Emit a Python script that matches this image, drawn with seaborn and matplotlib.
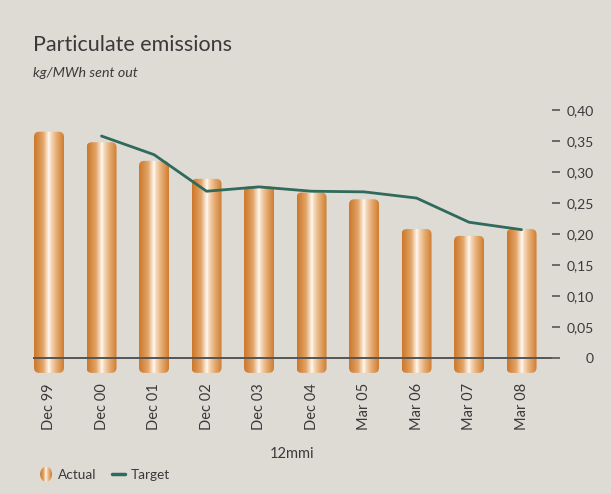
import numpy as np
import pandas as pd
import matplotlib
matplotlib.use("Agg")
import matplotlib.pyplot as plt
import seaborn as sns
from matplotlib.colors import LinearSegmentedColormap
from matplotlib.patches import FancyBboxPatch, Ellipse
from matplotlib.lines import Line2D
from matplotlib.legend_handler import HandlerPatch

PERIODS = ["Dec 99", "Dec 00", "Dec 01", "Dec 02", "Dec 03",
           "Dec 04", "Mar 05", "Mar 06", "Mar 07", "Mar 08"]
ACTUAL = [0.365, 0.348, 0.318, 0.289, 0.277, 0.267, 0.256, 0.208, 0.197, 0.208]
TARGET = [np.nan, 0.358, 0.328, 0.269, 0.276, 0.269, 0.268, 0.258, 0.219, 0.207]
Y_TICKS = [0, 0.05, 0.10, 0.15, 0.20, 0.25, 0.30, 0.35, 0.40]

BG = "#dedad4"
TEXT = "#3a3a3a"
LINE_GREEN = "#2f6a5c"
BAR_CMAP = LinearSegmentedColormap.from_list(
    "cyl",
    [(0.0, "#cc7628"), (0.30, "#e2a468"), (0.45, "#f8e3cc"), (0.50, "#fffaf3"),
     (0.56, "#f6dcc0"), (0.75, "#e6ad74"), (1.0, "#cf7d2e")],
)
BAR_BOTTOM = -0.024


class HandlerGradientEllipse(HandlerPatch):
    # legend key for "Actual": small ellipse filled with the bar gradient
    def create_artists(self, legend, orig_handle, xdescent, ydescent,
                       width, height, fontsize, trans):
        cx, cy = width / 2 - xdescent, height / 2 - ydescent
        ew, eh = height * 1.25, height * 1.6
        e = Ellipse((cx, cy), width=ew, height=eh, facecolor="none",
                    edgecolor="none", transform=trans)
        img = matplotlib.image.BboxImage(
            matplotlib.transforms.TransformedBbox(
                matplotlib.transforms.Bbox.from_extents(
                    cx - ew / 2, cy - eh / 2, cx + ew / 2, cy + eh / 2),
                trans),
            cmap=BAR_CMAP)
        img.set_data(np.linspace(0, 1, 64).reshape(1, -1))
        img.set_clip_path(e)
        return [e, img]


sns.set_theme(style="white")
plt.rcParams["font.family"] = ["Lato", "DejaVu Sans"]

df = pd.DataFrame({"period": PERIODS, "actual": ACTUAL, "target": TARGET})
df["pos"] = np.arange(len(df))

fig = plt.figure(figsize=(6.11, 4.94), dpi=100, facecolor=BG)
ax = fig.add_axes([33 / 611, 0.2439, (552 - 33) / 611, 0.5585])
ax.set_facecolor(BG)

sns.barplot(data=df, x="period", y="actual", ax=ax, width=0.571,
            color="#d98c45", saturation=1)

ylim = (-0.025, 0.42)
xlim = (-0.305, 9.58)

# replace the flat bars with rounded "cylinders" filled by a gradient
gradient = np.linspace(0, 1, 256).reshape(1, -1)
for p in list(ax.patches):
    x, w, h = p.get_x(), p.get_width(), p.get_height()
    p.remove()
    fb = FancyBboxPatch((x, BAR_BOTTOM), w, h - BAR_BOTTOM,
                        boxstyle="round,pad=0,rounding_size=0.1",
                        mutation_aspect=0.0845, facecolor="none",
                        edgecolor="none", zorder=2)
    ax.add_patch(fb)
    im = ax.imshow(gradient, cmap=BAR_CMAP, aspect="auto",
                   extent=(x, x + w, BAR_BOTTOM, h), zorder=2)
    im.set_clip_path(fb)

sns.lineplot(data=df, x="pos", y="target", ax=ax, color=LINE_GREEN,
             linewidth=2.0, zorder=4)

ax.axhline(0, color="#555555", linewidth=1.4, zorder=3)

ax.set_xlim(*xlim)
ax.set_ylim(*ylim)

for s in ax.spines.values():
    s.set_visible(False)

ax.set_xticks(df["pos"])
ax.set_xticklabels(PERIODS, rotation=90, color=TEXT, fontsize=10.5)
ax.tick_params(axis="x", length=0, pad=7)

ax.yaxis.tick_right()
ax.set_yticks(Y_TICKS)
ax.set_yticklabels(["0"] + [f"{v:.2f}".replace(".", ",") for v in Y_TICKS[1:]],
                   color=TEXT, fontsize=10)
ax.tick_params(axis="y", direction="out", length=6, width=1.2, color="#555555",
               pad=24)
for lab in ax.get_yticklabels():
    lab.set_horizontalalignment("right")
ax.tick_params(axis="y", which="both", left=False, right=True)

ax.set_xlabel("12mmi", color=TEXT, fontsize=10.5, labelpad=12)
ax.set_ylabel("")

fig.text(33 / 611, 1 - 45 / 494, "Particulate emissions", fontsize=15.5,
         color=TEXT, va="center", ha="left")
fig.text(33 / 611, 1 - 73 / 494, "kg/MWh sent out", fontsize=10.3,
         color=TEXT, style="italic", va="center", ha="left")

handles = [
    Ellipse((0, 0), 1, 1),
    Line2D([0], [0], color=LINE_GREEN, linewidth=2.5),
]
fig.legend(handles, ["Actual", "Target"], loc="center left",
           bbox_to_anchor=(27 / 611, 1 - 475 / 494), ncol=2, frameon=False,
           fontsize=9.8, handlelength=1.0, handletextpad=0.4, columnspacing=1.1,
           labelcolor=TEXT,
           handler_map={Ellipse: HandlerGradientEllipse()})

fig.savefig("out.png", dpi=100, facecolor=BG)
